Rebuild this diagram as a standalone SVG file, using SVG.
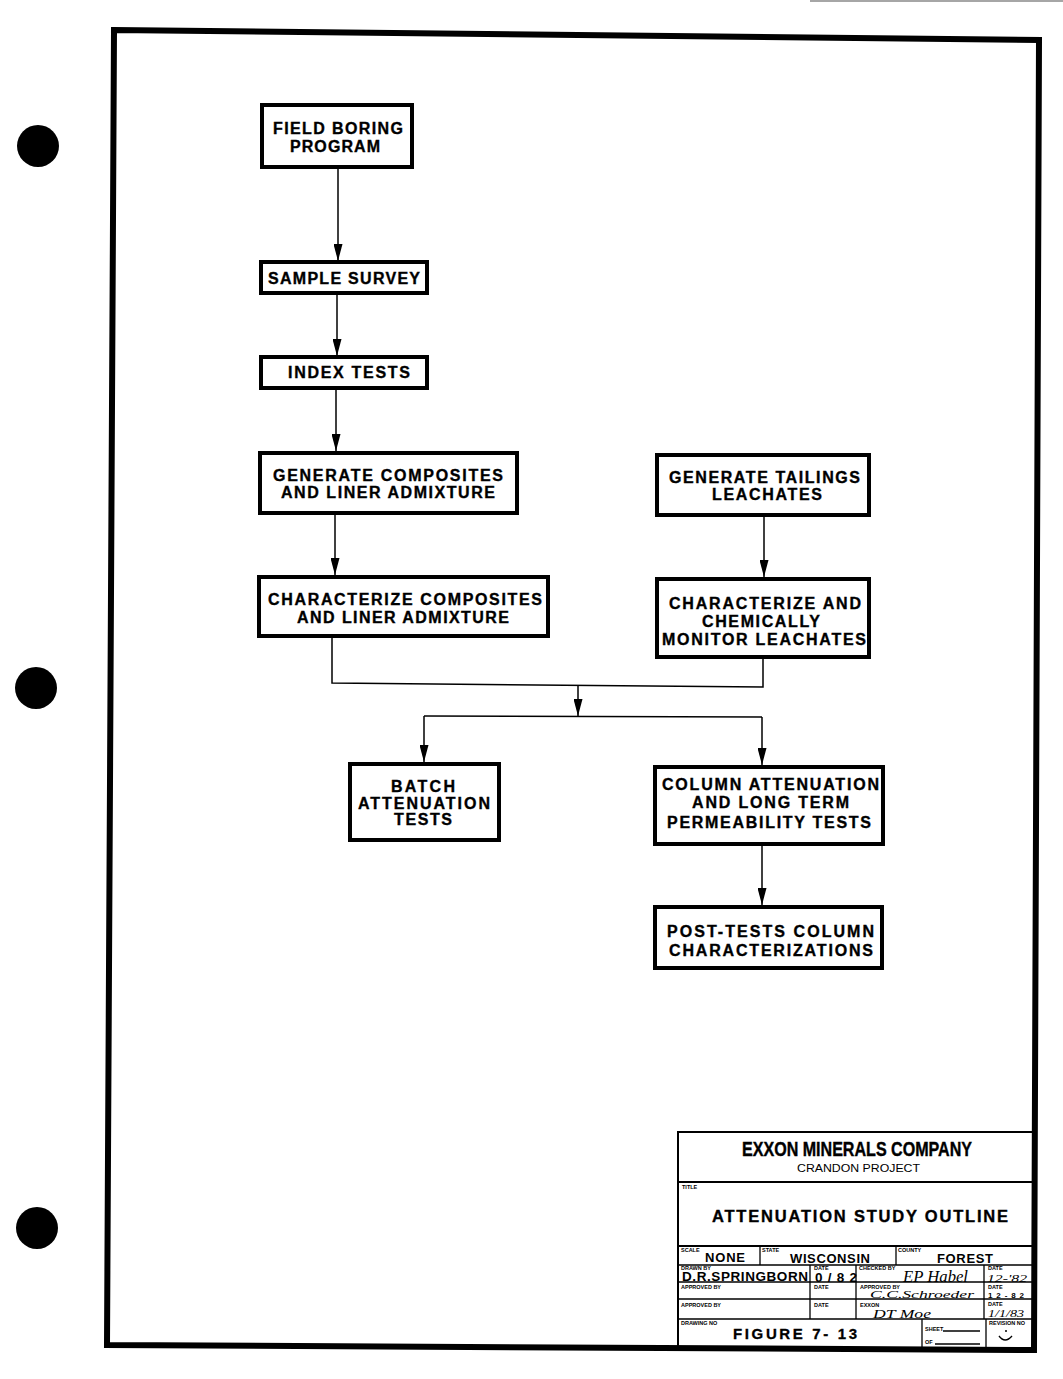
<svg xmlns="http://www.w3.org/2000/svg" width="1063" height="1379" viewBox="0 0 1063 1379">
<style>
.box{fill:#fff;stroke:#000;stroke-width:4}
.t{font-family:"Liberation Sans",Arial,sans-serif;font-weight:bold;font-size:16px;fill:#000;stroke:#000;stroke-width:0.35}
.c{fill:none;stroke:#000;stroke-width:1.5}
.tb{fill:none;stroke:#000;stroke-width:2}
.tl{fill:none;stroke:#000;stroke-width:1.3}
.tiny{font-family:"Liberation Sans",Arial,sans-serif;font-weight:bold;font-size:5.5px;fill:#000}
.tv{font-family:"Liberation Sans",Arial,sans-serif;font-weight:bold;fill:#000}
.sig{font-family:"Liberation Serif","Times New Roman",serif;font-style:italic;fill:#000}
</style>
<defs>
<marker id="ah" markerWidth="17" markerHeight="9" refX="17" refY="4.5" orient="auto" markerUnits="userSpaceOnUse" viewBox="0 0 17 9">
<path d="M0,0 L17,4.5 L0,9 Z" fill="#000"/>
</marker>
</defs>
<rect width="1063" height="1379" fill="#fff"/>
<line x1="810" y1="1" x2="1063" y2="1" stroke="#888" stroke-width="1.5"/>
<g id="punch-holes">
<circle cx="38" cy="146" r="21" fill="#000"/>
<circle cx="36" cy="688" r="21" fill="#000"/>
<circle cx="37" cy="1228" r="21" fill="#000"/>
</g>
<polygon id="border" points="114,30 1039,40 1034,1350 107,1345" fill="none" stroke="#000" stroke-width="6"/>

<g id="connectors">
<line class="c" x1="338" y1="169" x2="338" y2="261" marker-end="url(#ah)"/>
<line class="c" x1="337" y1="295" x2="337" y2="356" marker-end="url(#ah)"/>
<line class="c" x1="336" y1="390" x2="336" y2="451" marker-end="url(#ah)"/>
<line class="c" x1="335" y1="514" x2="335" y2="575" marker-end="url(#ah)"/>
<line class="c" x1="764" y1="517" x2="764" y2="577" marker-end="url(#ah)"/>
<polyline class="c" points="332,637 332,683 763,687 763,658"/>
<line class="c" x1="578" y1="685" x2="578" y2="716" marker-end="url(#ah)"/>
<line class="c" x1="424" y1="716" x2="762" y2="717"/>
<line class="c" x1="424" y1="716" x2="424" y2="762" marker-end="url(#ah)"/>
<line class="c" x1="762" y1="717" x2="762" y2="765" marker-end="url(#ah)"/>
<line class="c" x1="762" y1="846" x2="762" y2="905" marker-end="url(#ah)"/>
</g>

<g id="field-boring">
<rect class="box" x="262" y="105" width="150" height="62"/>
<text class="t" x="273" y="134" textLength="130" lengthAdjust="spacing">FIELD BORING</text>
<text class="t" x="290" y="152" textLength="90" lengthAdjust="spacing">PROGRAM</text>
</g>
<g id="sample-survey">
<rect class="box" x="261" y="262" width="166" height="31"/>
<text class="t" x="268" y="284" textLength="152" lengthAdjust="spacing">SAMPLE SURVEY</text>
</g>
<g id="index-tests">
<rect class="box" x="261" y="357" width="166" height="31"/>
<text class="t" x="288" y="378" textLength="122" lengthAdjust="spacing">INDEX TESTS</text>
</g>
<g id="generate-composites">
<rect class="box" x="260" y="453" width="257" height="60"/>
<text class="t" x="273" y="481" textLength="230" lengthAdjust="spacing">GENERATE COMPOSITES</text>
<text class="t" x="281" y="498" textLength="214" lengthAdjust="spacing">AND LINER ADMIXTURE</text>
</g>
<g id="generate-tailings">
<rect class="box" x="657" y="455" width="212" height="60"/>
<text class="t" x="669" y="483" textLength="191" lengthAdjust="spacing">GENERATE TAILINGS</text>
<text class="t" x="712" y="500" textLength="110" lengthAdjust="spacing">LEACHATES</text>
</g>
<g id="characterize-composites">
<rect class="box" x="259" y="577" width="289" height="59"/>
<text class="t" x="268" y="605" textLength="274" lengthAdjust="spacing">CHARACTERIZE COMPOSITES</text>
<text class="t" x="297" y="623" textLength="212" lengthAdjust="spacing">AND LINER ADMIXTURE</text>
</g>
<g id="characterize-leachates">
<rect class="box" x="657" y="579" width="212" height="78"/>
<text class="t" x="669" y="609" textLength="192" lengthAdjust="spacing">CHARACTERIZE AND</text>
<text class="t" x="702" y="627" textLength="118" lengthAdjust="spacing">CHEMICALLY</text>
<text class="t" x="662" y="645" textLength="204" lengthAdjust="spacing">MONITOR LEACHATES</text>
</g>
<g id="batch-attenuation">
<rect class="box" x="350" y="764" width="149" height="76"/>
<text class="t" x="391" y="792" textLength="64" lengthAdjust="spacing">BATCH</text>
<text class="t" x="358" y="809" textLength="132" lengthAdjust="spacing">ATTENUATION</text>
<text class="t" x="394" y="825" textLength="58" lengthAdjust="spacing">TESTS</text>
</g>
<g id="column-attenuation">
<rect class="box" x="655" y="767" width="228" height="77"/>
<text class="t" x="662" y="790" textLength="217" lengthAdjust="spacing">COLUMN ATTENUATION</text>
<text class="t" x="692" y="808" textLength="157" lengthAdjust="spacing">AND LONG TERM</text>
<text class="t" x="667" y="828" textLength="204" lengthAdjust="spacing">PERMEABILITY TESTS</text>
</g>
<g id="post-tests">
<rect class="box" x="655" y="907" width="227" height="61"/>
<text class="t" x="667" y="937" textLength="207" lengthAdjust="spacing">POST-TESTS COLUMN</text>
<text class="t" x="669" y="956" textLength="204" lengthAdjust="spacing">CHARACTERIZATIONS</text>
</g>

<g id="title-block">
<rect class="tb" x="678" y="1132" width="356" height="216"/>
<line class="tb" x1="678" y1="1182" x2="1034" y2="1182"/>
<line class="tb" x1="678" y1="1246" x2="1034" y2="1246"/>
<line class="tl" x1="678" y1="1265" x2="1034" y2="1265"/>
<line class="tl" x1="678" y1="1282" x2="1034" y2="1282"/>
<line class="tl" x1="678" y1="1299" x2="1034" y2="1299"/>
<line class="tl" x1="678" y1="1319" x2="1034" y2="1319"/>
<line class="tl" x1="760" y1="1246" x2="760" y2="1265"/>
<line class="tl" x1="896" y1="1246" x2="896" y2="1265"/>
<line class="tl" x1="810" y1="1265" x2="810" y2="1319"/>
<line class="tl" x1="856" y1="1265" x2="856" y2="1319"/>
<line class="tl" x1="984" y1="1265" x2="984" y2="1319"/>
<line class="tl" x1="922" y1="1319" x2="922" y2="1348"/>
<line class="tl" x1="986" y1="1319" x2="986" y2="1348"/>

<text class="tv" x="742" y="1156" font-size="20" textLength="230" lengthAdjust="spacingAndGlyphs" style="stroke:#000;stroke-width:0.4">EXXON MINERALS COMPANY</text>
<text class="tv" x="797" y="1172" font-size="11" textLength="123" lengthAdjust="spacingAndGlyphs" style="font-weight:normal">CRANDON PROJECT</text>
<text class="tiny" x="682" y="1189">TITLE</text>
<text class="tv" x="712" y="1222" font-size="16.5" textLength="296" lengthAdjust="spacing" style="stroke:#000;stroke-width:0.35">ATTENUATION STUDY OUTLINE</text>

<text class="tiny" x="681" y="1252">SCALE</text>
<text class="tv" x="705" y="1262" font-size="13" textLength="40" lengthAdjust="spacing">NONE</text>
<text class="tiny" x="762" y="1252">STATE</text>
<text class="tv" x="790" y="1263" font-size="13" textLength="80" lengthAdjust="spacing">WISCONSIN</text>
<text class="tiny" x="898" y="1252">COUNTY</text>
<text class="tv" x="937" y="1263" font-size="13" textLength="56" lengthAdjust="spacing">FOREST</text>

<text class="tiny" x="681" y="1270">DRAWN BY</text>
<text class="tv" x="682" y="1281" font-size="13.5" textLength="126" lengthAdjust="spacing">D.R.SPRINGBORN</text>
<text class="tiny" x="814" y="1270">DATE</text>
<text class="tv" x="815" y="1282" font-size="13.5" textLength="42" lengthAdjust="spacing">0/82</text>
<text class="tiny" x="859" y="1270">CHECKED BY</text>
<text class="sig" x="903" y="1282" font-size="16" textLength="65" lengthAdjust="spacingAndGlyphs">EP Habel</text>
<text class="tiny" x="988" y="1270">DATE</text>
<text class="sig" x="987" y="1282" font-size="11" textLength="40" lengthAdjust="spacingAndGlyphs">12-'82</text>

<text class="tiny" x="681" y="1289">APPROVED BY</text>
<text class="tiny" x="814" y="1289">DATE</text>
<text class="tiny" x="860" y="1289">APPROVED BY</text>
<text class="sig" x="870" y="1298" font-size="11" textLength="104" lengthAdjust="spacingAndGlyphs">C.C.Schroeder</text>
<text class="tiny" x="988" y="1289">DATE</text>
<text class="tv" x="988" y="1298" font-size="8" textLength="36" lengthAdjust="spacing">12-82</text>

<text class="tiny" x="681" y="1307">APPROVED BY</text>
<text class="tiny" x="814" y="1307">DATE</text>
<text class="tiny" x="860" y="1307">EXXON</text>
<text class="sig" x="873" y="1318" font-size="12" textLength="58" lengthAdjust="spacingAndGlyphs">DT Moe</text>
<text class="tiny" x="988" y="1306">DATE</text>
<text class="sig" x="988" y="1317" font-size="10" textLength="36" lengthAdjust="spacingAndGlyphs">1/1/83</text>

<text class="tiny" x="681" y="1325">DRAWING NO</text>
<text class="tv" x="733" y="1339" font-size="15" textLength="124" lengthAdjust="spacing" style="stroke:#000;stroke-width:0.3">FIGURE 7- 13</text>
<text class="tiny" x="925" y="1331">SHEET</text>
<line class="tl" x1="943" y1="1331" x2="980" y2="1331"/>
<text class="tiny" x="925" y="1344">OF</text>
<line class="tl" x1="935" y1="1344" x2="980" y2="1344"/>
<text class="tiny" x="989" y="1325" font-size="4.5">REVISION NO</text>
<path d="M999,1336 Q1005,1344 1012,1336" fill="none" stroke="#000" stroke-width="1.4"/>
<circle cx="1006" cy="1331" r="1" fill="#000"/>
</g>
</svg>
